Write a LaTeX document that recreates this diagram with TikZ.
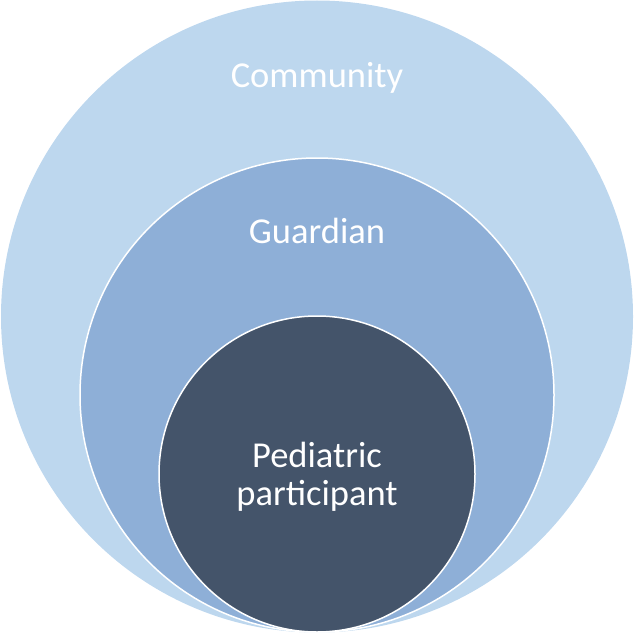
\documentclass[tikz,border=0pt]{standalone}
\usepackage{fontspec}
\setmainfont{Carlito}
\definecolor{outerc}{HTML}{BDD7EE}
\definecolor{midc}{HTML}{8EAFD7}
\definecolor{innerc}{HTML}{44546A}
\begin{document}
\begin{tikzpicture}[x=1pt,y=-1pt,
  ring/.style={draw=white,line width=1.5pt},
  lbl/.style={text=white,font=\fontsize{36.5}{39}\selectfont,anchor=base,inner sep=0pt}]
\useasboundingbox (0,0) rectangle (634,634);
\fill[outerc] (317,316.5) circle[radius=316];
\node[ring,fill=midc,circle,minimum size=474pt,inner sep=0pt] (guard) at (317,395) {};
\node[ring,fill=innerc,circle,minimum size=316pt,inner sep=0pt] (ped) at (317,474) {};
\node[lbl] (comm) at (317,88) {Community};
\node[lbl] (guardl) at (317,243) {Guardian};
\node[lbl] (pedl1) at (317,467) {Pediatric};
\node[lbl] (pedl2) at (317,505) {participant};
\end{tikzpicture}
\end{document}
